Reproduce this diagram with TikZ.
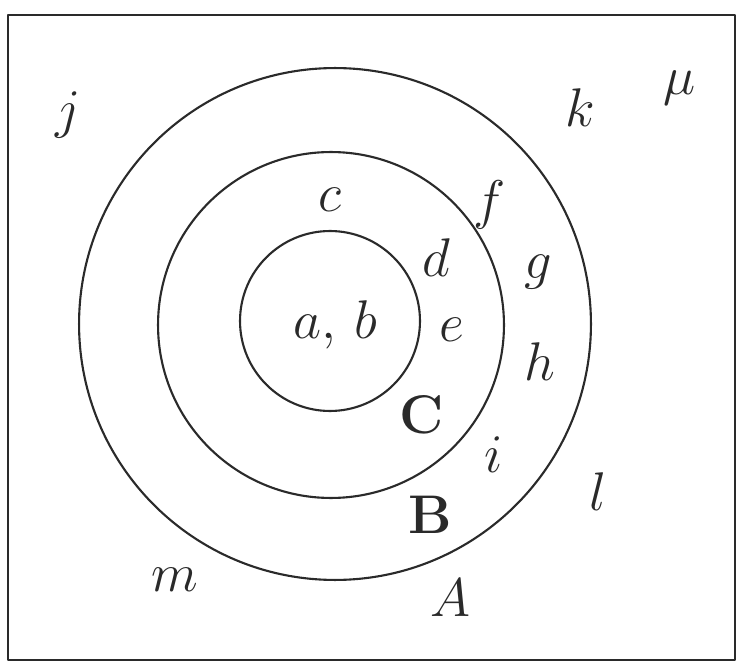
\RequirePackage{fix-cm}
\documentclass[tikz,border=0pt]{standalone}
\usepackage{amsmath,amssymb}
\usepackage{tikz}
\usetikzlibrary{calc}
\definecolor{vennink}{HTML}{2A2A2A}

\begin{document}
\begin{tikzpicture}[x=0.02cm,y=-0.02cm,line cap=round,line join=round,
  font=\fontsize{31}{36}\selectfont,text=vennink,
  setline/.style={draw=vennink,line width=1.2pt},
  elem/.style={inner sep=0pt},
  setname/.style={inner sep=0pt,font=\fontsize{31}{36}\selectfont}]
\path[use as bounding box] (0,0) rectangle (744,672);
\fill[white] (0,0) rectangle (744,672);
% universal set and the three nested sets
\draw[setline] (8,15) rectangle (735,660);
\node[setline,circle,minimum size=10.24cm] (setA) at (335,324) {};
\node[setline,circle,minimum size=6.92cm] (setB) at (331,325) {};
\node[setline,circle,minimum size=3.6cm] (setC) at (330,321) {};
% elements
\node[elem] (mu) at (680,88) {$\mu$};
\node[elem] (j) at (68,115) {$j$};
\node[elem] (k) at (580,108) {$k$};
\node[elem] (c) at (330,200) {$c$};
\node[elem] (f) at (490,205) {$f$};
\node[elem] (d) at (436,258) {$d$};
\node[elem] (g) at (538,272) {$g$};
\node[elem] (ab) at (335,325) {$a,\,b$};
\node[elem] (e) at (452,330) {$e$};
\node[elem] (h) at (540,362) {$h$};
\node[elem] (i) at (494,455) {$i$};
\node[elem] (l) at (598,492) {$l$};
\node[elem] (m) at (175,580) {$m$};
% set names
\node[setname] (nameC) at (422,415) {$\mathbf{C}$};
\node[setname] (nameB) at (430,515) {$\mathbf{B}$};
\node[elem] (nameA) at (450,598) {$A$};
\end{tikzpicture}
\end{document}
